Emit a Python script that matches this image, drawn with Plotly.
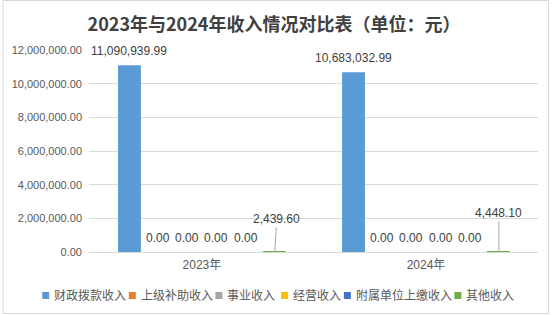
import plotly.graph_objects as go

# ---- data ----
categories = ["2023年", "2024年"]
series_names = ["财政拨款收入", "上级补助收入", "事业收入", "经营收入", "附属单位上缴收入", "其他收入"]
v_czbk = [11090939.99, 10683032.99]
v_sjbz = [0.00, 0.00]
v_sy = [0.00, 0.00]
v_jy = [0.00, 0.00]
v_fsdw = [0.00, 0.00]
v_qt = [2439.60, 4448.10]
series_values = [v_czbk, v_sjbz, v_sy, v_jy, v_fsdw, v_qt]
y_ticks = [0, 2000000, 4000000, 6000000, 8000000, 10000000, 12000000]

# ---- style ----
colors = ["#5B9BD5", "#ED7D31", "#A5A5A5", "#FFC000", "#4472C4", "#70AD47"]
W, H = 553, 315
L, R, T, B = 87, 15, 50, 63
PW, PH = W - L - R, H - T - B
FONT = "Liberation Sans, Noto Sans CJK SC, sans-serif"
BARGAP, GROUPGAP = 0.224, 0.21

def px_x(x):
    return (x - L) / PW

def px_y(y):
    return (H - B - y) / PH

fig = go.Figure()
for i, (name, vals) in enumerate(zip(series_names, series_values)):
    fig.add_trace(go.Bar(
        name=name, x=categories, y=vals,
        marker=dict(color=colors[i], line=dict(width=0)),
        cliponaxis=False, showlegend=False,
    ))

annotations = []
n = len(series_names)
bar_slot = PW / len(categories) * (1 - BARGAP) / n
label_font = dict(size=12, color="#404040", family=FONT)
# data labels above bars
for i, vals in enumerate(series_values[:-1]):
    for cat, v in zip(categories, vals):
        annotations.append(dict(
            x=cat, y=v, xref="x", yref="y", xshift=(i - (n - 1) / 2) * bar_slot,
            yshift=14.5, yanchor="middle", xanchor="center", showarrow=False,
            text=f"{v:,.2f}", font=label_font,
        ))
# leader-line labels for the small "其他收入" values
for cat, v, ax, ay in zip(categories, v_qt, [2, 0], [-33, -39]):
    annotations.append(dict(
        x=cat, y=v, xref="x", yref="y", xshift=bar_slot * (n - 1) / 2,
        text=f"{v:,.2f}", showarrow=True, arrowhead=0, arrowwidth=1,
        arrowcolor="#A6A6A6", ax=ax, ay=ay, standoff=0, font=label_font,
    ))

# manual legend (Excel-style compact)
leg_sq_x = [40, 127, 214, 280, 343, 454]
leg_y = 295.5
shapes = []
for i, name in enumerate(series_names):
    x0 = leg_sq_x[i]
    shapes.append(dict(type="rect", xref="paper", yref="paper",
                       x0=px_x(x0), x1=px_x(x0 + 7),
                       y0=px_y(leg_y + 3.5), y1=px_y(leg_y - 3.5),
                       fillcolor=colors[i], line=dict(width=0)))
    annotations.append(dict(x=px_x(x0 + 10), y=px_y(leg_y), xref="paper", yref="paper",
                            xanchor="left", yanchor="middle", showarrow=False,
                            text=name, font=dict(size=12, color="#595959", family=FONT)))

# chart border
shapes.append(dict(type="rect", xref="paper", yref="paper",
                   x0=px_x(0.5), x1=px_x(548.5), y0=px_y(313.5), y1=px_y(0.5),
                   line=dict(color="#D9D9D9", width=1), fillcolor="rgba(0,0,0,0)"))

fig.update_layout(
    width=W, height=H,
    margin=dict(l=L, r=R, t=T, b=B, pad=0),
    paper_bgcolor="white", plot_bgcolor="white",
    barmode="group", bargap=BARGAP, bargroupgap=GROUPGAP,
    title=dict(text="<b>2023年与2024年收入情况对比表（单位：元）</b>",
               x=274 / W, xref="container", xanchor="center",
               y=1 - 25 / H, yref="container", yanchor="middle",
               font=dict(size=18, color="#404040", family="Noto Sans CJK SC, sans-serif")),
    xaxis=dict(showgrid=False, showline=False, ticks="", zeroline=False,
               tickfont=dict(size=12, color="#595959", family=FONT), ticklabelstandoff=4),
    yaxis=dict(range=[0, 12000000], tickvals=y_ticks, tickformat=",.2f",
               showgrid=True, gridcolor="#D9D9D9", gridwidth=1,
               zeroline=True, zerolinecolor="#D9D9D9", zerolinewidth=1,
               showline=False, ticks="",
               tickfont=dict(size=11, color="#595959", family=FONT), ticklabelstandoff=6),
    annotations=annotations, shapes=shapes,
    showlegend=False,
)

fig.write_html("out.html")
